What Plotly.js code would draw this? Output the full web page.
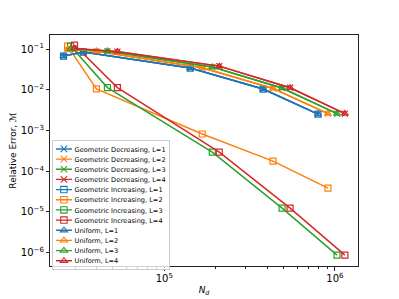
<!DOCTYPE html>
<html>
<head>
<meta charset="utf-8">
<script src="https://cdn.plot.ly/plotly-3.0.1.min.js"></script>
<style>html,body{margin:0;padding:0;background:#fff;}#chart{width:399px;height:299px;}</style>
</head>
<body>
<div id="chart"></div>
<script>
// Number of DoFs per level count L
const N_L1 = [25650, 33570, 141900, 379300, 795500];
const N_L2 = [27100, 40000, 166800, 433500, 909700];
const N_L3 = [28200, 46400, 191000, 489700, 1028000];
const N_L4 = [29760, 53100, 209900, 545700, 1143000];

// Geometric Decreasing errors
const dec_L1 = [0.067, 0.084, 0.034, 0.0104, 0.00253];
const dec_L2 = [0.097, 0.088, 0.034, 0.0107, 0.0026];
const dec_L3 = [0.100, 0.088, 0.036, 0.0110, 0.0026];
const dec_L4 = [0.102, 0.086, 0.038, 0.0112, 0.0026];

// Geometric Increasing errors
const inc_L1 = [0.067, 0.084, 0.034, 0.0104, 0.00253];
const inc_L2 = [0.118, 0.0105, 0.00082, 0.000177, 3.85e-5];
const inc_L3 = [0.118, 0.0113, 0.000294, 1.24e-5, 8.7e-7];
const inc_L4 = [0.125, 0.0113, 0.000294, 1.24e-5, 8.7e-7];

// Uniform errors
const uni_L1 = [0.067, 0.084, 0.034, 0.0104, 0.00253];
const uni_L2 = [0.098, 0.089, 0.035, 0.0108, 0.0026];
const uni_L3 = [0.101, 0.089, 0.036, 0.0110, 0.0026];
const uni_L4 = [0.103, 0.087, 0.038, 0.0112, 0.0026];

const levels = ['L=1', 'L=2', 'L=3', 'L=4'];
const Ns = [N_L1, N_L2, N_L3, N_L4];
const colors = ['#1f77b4', '#ff7f0e', '#2ca02c', '#d62728'];

const methods = [
  {name: 'Geometric Decreasing', data: [dec_L1, dec_L2, dec_L3, dec_L4], symbol: 'x-thin-open'},
  {name: 'Geometric Increasing', data: [inc_L1, inc_L2, inc_L3, inc_L4], symbol: 'square-open'},
  {name: 'Uniform', data: [uni_L1, uni_L2, uni_L3, uni_L4], symbol: 'triangle-up-open'}
];

const traces = [];
methods.forEach(m => {
  m.data.forEach((ys, i) => {
    traces.push({
      x: Ns[i], y: ys, type: 'scatter', mode: 'lines+markers',
      name: m.name + ', ' + levels[i],
      line: {color: colors[i], width: 1.5},
      marker: {symbol: m.symbol, size: 6, color: colors[i], line: {color: colors[i], width: 1.2}}
    });
  });
});

const tickFont = {family: 'DejaVu Sans', size: 8, color: '#000'};
const layout = {
  width: 399, height: 299,
  margin: {l: 50, r: 41, t: 35, b: 33, autoexpand: false},
  paper_bgcolor: '#fff', plot_bgcolor: '#fff',
  showlegend: true,
  legend: {
    x: 0.007, y: 0.545, xanchor: 'left', yanchor: 'top',
    bgcolor: 'rgba(255,255,255,0.8)', bordercolor: '#cccccc', borderwidth: 2,
    font: {family: 'DejaVu Sans', size: 12.3, color: '#000'},
    maxheight: 2000, tracegroupgap: 0, itemsizing: 'constant'
  },
  xaxis: {
    type: 'log', range: [4.330, 6.135], dtick: 1, exponentformat: 'power',
    showgrid: false, zeroline: false, showline: true, mirror: true,
    linecolor: '#222', linewidth: 1, ticks: 'outside', ticklen: 3.5, tickcolor: '#222',
    tickfont: tickFont,
    minor: {ticks: 'outside', ticklen: 2, dtick: 'D1', tickcolor: '#222', showgrid: false},
    title: {text: '<i>N</i><sub><i>d</i></sub>', font: {family: 'DejaVu Sans', size: 9, color: '#000'}, standoff: 3}
  },
  yaxis: {
    type: 'log', range: [-6.327, -0.656], dtick: 1, exponentformat: 'power',
    showgrid: false, zeroline: false, showline: true, mirror: true,
    linecolor: '#222', linewidth: 1, ticks: 'outside', ticklen: 3.5, tickcolor: '#222',
    tickfont: tickFont,
    title: {text: 'Relative Error, ℳ', font: {family: 'DejaVu Sans', size: 9, color: '#000'}, standoff: 2}
  }
};

Plotly.newPlot('chart', traces, layout, {displayModeBar: false, staticPlot: true}).then(gd => {
  const leg = gd.querySelector('g.legend');
  if (leg) {
    const t = leg.getAttribute('transform') || '';
    leg.setAttribute('transform', t + ' scale(0.535)');
    leg.querySelectorAll('.legendlines path').forEach(p => { p.style.strokeWidth = '2.6px'; });
  }
});
</script>
</body>
</html>
